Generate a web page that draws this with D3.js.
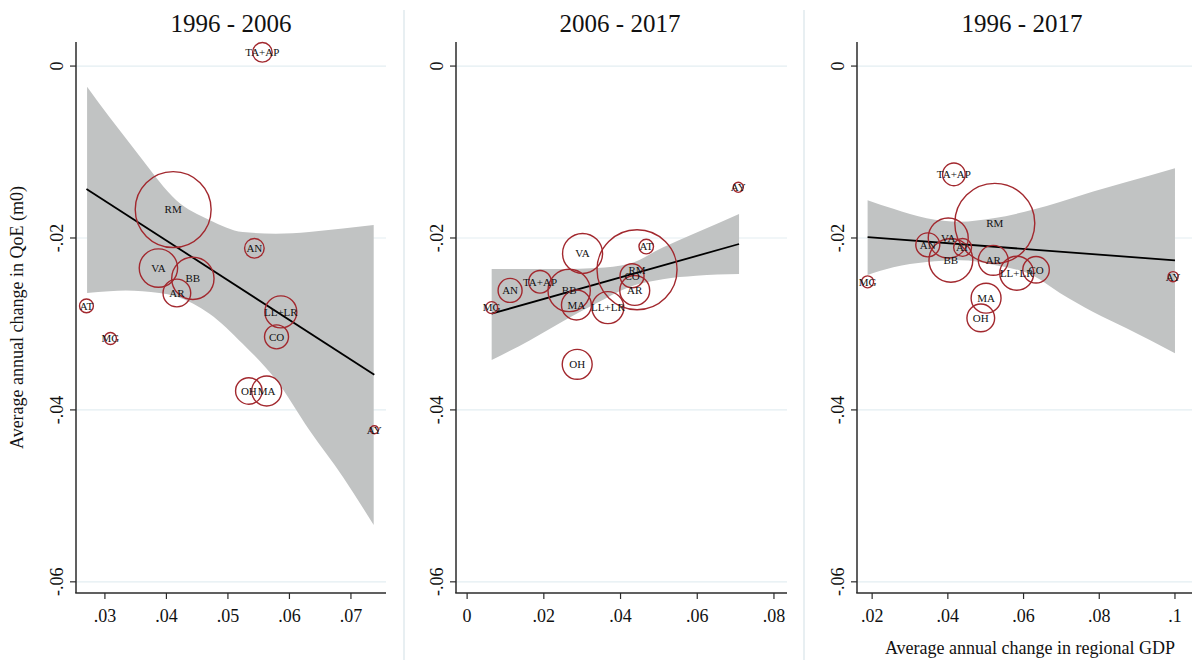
<!DOCTYPE html>
<html>
<head>
<meta charset="utf-8">
<script src="https://cdn.jsdelivr.net/npm/d3@7"></script>
<style>
  html, body { margin: 0; padding: 0; background: #fff; }
  svg { display: block; font-family: "Liberation Serif", "Times New Roman", serif; }
</style>
</head>
<body>
<div id="chart"></div>
<script>
// ===========================
// QoE vs regional GDP growth
// three weighted scatter panels with linear fit + 95% CI
// ===========================

const regions = ['AN', 'AR', 'AT', 'AY', 'BB', 'CO', 'LL+LR', 'MA', 'MG', 'OH', 'RM', 'TA+AP', 'VA'];

// 1996 - 2006
const gdp1 = [0.0543, 0.0417, 0.0270, 0.0738, 0.0443, 0.0579, 0.0586, 0.0563, 0.0309, 0.0534, 0.0411, 0.0556, 0.0387];
const qoe1 = [-0.0212, -0.0264, -0.0279, -0.0423, -0.0247, -0.0315, -0.0286, -0.0378, -0.0317, -0.0378, -0.0167, 0.0016, -0.0235];
const wt1 = [6, 12, 3, 1, 28, 9, 16, 14, 2.25, 11, 90, 6, 23];

// 2006 - 2017
const gdp2 = [0.0112, 0.0437, 0.0467, 0.0707, 0.0266, 0.0430, 0.0367, 0.0285, 0.0064, 0.0287, 0.0443, 0.0190, 0.0301];
const qoe2 = [-0.0261, -0.0261, -0.0210, -0.0141, -0.0261, -0.0244, -0.0281, -0.0278, -0.0281, -0.0347, -0.0237, -0.0251, -0.0218];
const wt2 = [9, 14, 3.3, 1.6, 28, 9, 16, 14, 2.25, 14, 100, 8, 25];

// 1996 - 2017
const gdp3 = [0.0347, 0.0520, 0.0439, 0.0995, 0.0408, 0.0633, 0.0582, 0.0501, 0.0188, 0.0487, 0.0524, 0.0416, 0.0401];
const qoe3 = [-0.0208, -0.0226, -0.0211, -0.0245, -0.0226, -0.0237, -0.0241, -0.0270, -0.0251, -0.0293, -0.0183, -0.0126, -0.0200];
const wt3 = [9, 14, 5, 1.6, 30, 11, 18, 14, 2.25, 12, 100, 8, 25];

// fitted lines (endpoints)
const fitX1 = [0.0270, 0.0738], fitY1 = [-0.0143, -0.0359];
const fitX2 = [0.0064, 0.0709], fitY2 = [-0.0288, -0.0207];
const fitX3 = [0.0188, 0.1000], fitY3 = [-0.0199, -0.0226];

// confidence bands
const ciX1 = [0.0271, 0.0307, 0.0334, 0.0361, 0.0416, 0.0470, 0.0524, 0.0578, 0.0632, 0.0687, 0.0737];
const ciHi1 = [-0.0024, -0.0059, -0.0084, -0.0109, -0.0156, -0.0179, -0.0193, -0.0195, -0.0193, -0.0189, -0.0185];
const ciLo1 = [-0.0264, -0.0262, -0.0261, -0.0262, -0.0268, -0.0288, -0.0323, -0.0365, -0.0423, -0.0478, -0.0534];

const ciX2 = [0.0064, 0.0164, 0.0250, 0.0337, 0.0423, 0.0510, 0.0597, 0.0709];
const ciHi2 = [-0.0236, -0.0236, -0.0236, -0.0235, -0.0230, -0.0211, -0.0194, -0.0172];
const ciLo2 = [-0.0342, -0.0319, -0.0297, -0.0276, -0.0257, -0.0248, -0.0244, -0.0242];

const ciX3 = [0.0188, 0.0256, 0.0344, 0.0432, 0.0520, 0.0626, 0.0696, 0.0784, 0.0872, 0.1000];
const ciHi3 = [-0.0156, -0.0166, -0.0177, -0.0181, -0.0177, -0.0167, -0.0158, -0.0146, -0.0135, -0.0119];
const ciLo3 = [-0.0243, -0.0234, -0.0228, -0.0226, -0.0231, -0.0244, -0.0264, -0.0286, -0.0305, -0.0334];

const titles = ['1996 - 2006', '2006 - 2017', '1996 - 2017'];
const xTicks1 = [0.03, 0.04, 0.05, 0.06, 0.07];
const xTicks2 = [0, 0.02, 0.04, 0.06, 0.08];
const xTicks3 = [0.02, 0.04, 0.06, 0.08, 0.1];
const yTicks = [0, -0.02, -0.04, -0.06];

const yTitle = 'Average annual change in QoE (m0)';
const xTitle = 'Average annual change in regional GDP';

// ---------------------------

const W = 1192, H = 660;
const plotTop = 42, plotBottom = 593;
const circleColor = '#a2282e';
const gridColor = '#e3eef2';
const axisColor = '#2b2b2b';

const panels = [
    { title: titles[0], x: gdp1, y: qoe1, w: wt1, fx: fitX1, fy: fitY1, cx: ciX1, hi: ciHi1, lo: ciLo1,
      ticks: xTicks1, domain: [0.0253, 0.0757], left: 76, right: 386, titleX: 231 },
    { title: titles[1], x: gdp2, y: qoe2, w: wt2, fx: fitX2, fy: fitY2, cx: ciX2, hi: ciHi2, lo: ciLo2,
      ticks: xTicks2, domain: [-0.0029, 0.0834], left: 456, right: 787, titleX: 620 },
    { title: titles[2], x: gdp3, y: qoe3, w: wt3, fx: fitX3, fy: fitY3, cx: ciX3, hi: ciHi3, lo: ciLo3,
      ticks: xTicks3, domain: [0.0160, 0.1045], left: 857, right: 1192, titleX: 1022 }
];

// Stata style: no leading zero, plain hyphen for minus
const fmt = v => {
    const s = d3.format('.2~f')(v).replace('\u2212', '-');
    return s === '0' ? '0' : s.replace(/^(-?)0\./, '$1.');
};

const svg = d3.select('#chart')
    .append('svg')
    .attr('width', W)
    .attr('height', H);

// panel separators
[404, 804].forEach(sx => {
    svg.append('line')
        .attr('x1', sx).attr('x2', sx)
        .attr('y1', 10).attr('y2', H)
        .attr('stroke', '#e8eff2')
        .attr('stroke-width', 2);
});

const yScale = d3.scaleLinear().domain([-0.0613, 0.0028]).range([plotBottom, plotTop]);
const rScale = d3.scaleSqrt().domain([0, 100]).range([0, 40]);

panels.forEach(p => {
    const xScale = d3.scaleLinear().domain(p.domain).range([p.left, p.right]);
    const g = svg.append('g');

    // gridlines
    g.selectAll('.grid')
        .data(yTicks)
        .join('line')
        .attr('x1', p.left).attr('x2', p.right)
        .attr('y1', d => yScale(d)).attr('y2', d => yScale(d))
        .attr('stroke', gridColor)
        .attr('stroke-width', 1.2);

    // CI band
    const band = d3.area()
        .x((d, i) => xScale(p.cx[i]))
        .y0((d, i) => yScale(p.lo[i]))
        .y1((d, i) => yScale(p.hi[i]))
        .curve(d3.curveMonotoneX);

    g.append('path')
        .datum(p.cx)
        .attr('d', band)
        .attr('fill', '#c1c3c3');

    // fit line
    g.append('line')
        .attr('x1', xScale(p.fx[0])).attr('y1', yScale(p.fy[0]))
        .attr('x2', xScale(p.fx[1])).attr('y2', yScale(p.fy[1]))
        .attr('stroke', '#000')
        .attr('stroke-width', 1.8);

    // weighted points
    const pts = regions.map((r, i) => ({ name: r, x: p.x[i], y: p.y[i], w: p.w[i] }))
        .sort((a, b) => b.w - a.w);

    g.selectAll('.pt')
        .data(pts)
        .join('circle')
        .attr('cx', d => xScale(d.x))
        .attr('cy', d => yScale(d.y))
        .attr('r', d => rScale(d.w))
        .attr('fill', 'none')
        .attr('stroke', circleColor)
        .attr('stroke-width', 1.4);

    g.selectAll('.lbl')
        .data(pts)
        .join('text')
        .attr('x', d => xScale(d.x))
        .attr('y', d => yScale(d.y))
        .attr('dy', '0.35em')
        .attr('text-anchor', 'middle')
        .attr('font-size', '11px')
        .attr('fill', '#111')
        .text(d => d.name);

    // axes
    g.append('line')
        .attr('x1', p.left).attr('x2', p.left)
        .attr('y1', plotTop).attr('y2', plotBottom)
        .attr('stroke', axisColor).attr('stroke-width', 1.5);
    g.append('line')
        .attr('x1', p.left - 0.75).attr('x2', p.right)
        .attr('y1', plotBottom).attr('y2', plotBottom)
        .attr('stroke', axisColor).attr('stroke-width', 1.5);

    // y ticks
    g.selectAll('.yt')
        .data(yTicks)
        .join('line')
        .attr('x1', p.left - 6).attr('x2', p.left)
        .attr('y1', d => yScale(d)).attr('y2', d => yScale(d))
        .attr('stroke', axisColor).attr('stroke-width', 1.2);

    g.selectAll('.ytl')
        .data(yTicks)
        .join('text')
        .attr('transform', d => `translate(${p.left - 13.5},${yScale(d)}) rotate(-90)`)
        .attr('text-anchor', 'middle')
        .attr('font-size', '18px')
        .attr('fill', '#111')
        .text(fmt);

    // x ticks
    g.selectAll('.xt')
        .data(p.ticks)
        .join('line')
        .attr('x1', d => xScale(d)).attr('x2', d => xScale(d))
        .attr('y1', plotBottom).attr('y2', plotBottom + 6)
        .attr('stroke', axisColor).attr('stroke-width', 1.2);

    g.selectAll('.xtl')
        .data(p.ticks)
        .join('text')
        .attr('x', d => xScale(d))
        .attr('y', 622)
        .attr('text-anchor', 'middle')
        .attr('font-size', '18px')
        .attr('fill', '#111')
        .text(fmt);

    // panel title
    g.append('text')
        .attr('x', p.titleX)
        .attr('y', 32)
        .attr('text-anchor', 'middle')
        .attr('font-size', '25px')
        .attr('fill', '#111')
        .text(p.title);
});

// axis titles
svg.append('text')
    .attr('transform', `translate(23,${(plotTop + plotBottom) / 2}) rotate(-90)`)
    .attr('text-anchor', 'middle')
    .attr('font-size', '18px')
    .attr('fill', '#111')
    .text(yTitle);

svg.append('text')
    .attr('x', 1175)
    .attr('y', 654)
    .attr('text-anchor', 'end')
    .attr('font-size', '18px')
    .attr('fill', '#111')
    .text(xTitle);
</script>
</body>
</html>
